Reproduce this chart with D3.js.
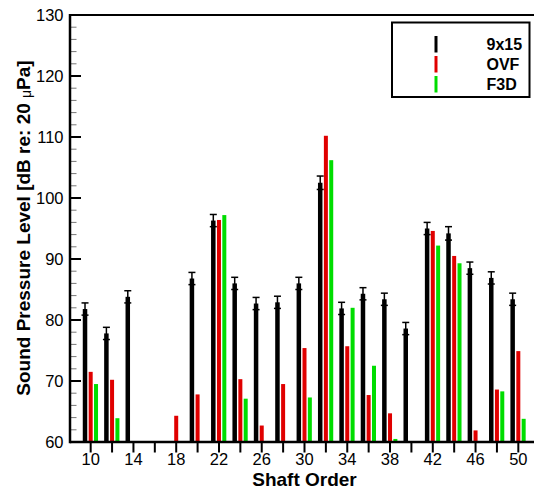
<!DOCTYPE html>
<html><head><meta charset="utf-8">
<script src="https://cdn.jsdelivr.net/npm/d3@7"></script>
<style>
html,body{margin:0;padding:0;background:#fff;}
svg{display:block;font-family:"Liberation Sans",Arial,sans-serif;}
</style></head>
<body>
<svg id="chart" width="534" height="489"></svg>
<script>
const orders = [10,12,14,16,18,20,22,24,26,28,30,32,34,36,38,40,42,44,46,48,50];
const exp9x15 = [81.8,77.8,83.8,null,null,86.8,96.3,86.0,82.7,82.9,86.0,102.5,81.9,84.3,83.4,78.6,95.0,94.2,88.5,86.9,83.4];
const expErr  = [1.0,1.0,1.0,null,null,1.0,1.0,1.0,1.0,1.0,1.0,1.1,1.0,1.0,1.0,1.0,1.0,1.1,1.0,1.0,1.0];
const ovf     = [71.5,70.2,null,null,64.3,67.8,96.4,70.3,62.7,69.5,75.4,110.2,75.7,67.7,64.7,null,94.6,90.5,61.9,68.6,74.9];
const f3d     = [69.5,63.9,null,null,null,null,97.2,67.1,null,null,67.3,106.2,82.0,72.5,60.5,null,92.2,89.3,null,68.3,63.8];
const seriesNames = ["9x15","OVF","F3D"];
const seriesColors = ["#000000","#e00000","#00dd00"];
const yTicks = [60,70,80,90,100,110,120,130];
const xTickLabels = [10,14,18,22,26,30,34,38,42,46,50];

const svg = d3.select("#chart");
const x = d3.scaleLinear().domain([8, 52]).range([69.3, 539.7]);
const y = d3.scaleLinear().domain([60, 130]).range([442, 15]);

// minor y ticks
const minor = d3.range(60, 131, 2).filter(v => v % 10 !== 0);
svg.append("g").selectAll("line").data(minor).join("line")
  .attr("x1", 70).attr("x2", 76.5).attr("y1", d => y(d)).attr("y2", d => y(d))
  .attr("stroke", "#777").attr("stroke-width", 1);
// major y ticks
svg.append("g").selectAll("line").data(yTicks).join("line")
  .attr("x1", 70).attr("x2", 81).attr("y1", d => y(d)).attr("y2", d => y(d))
  .attr("stroke", "#000").attr("stroke-width", 2);
svg.append("g").selectAll("text").data(yTicks).join("text")
  .attr("x", 63.5).attr("y", d => y(d)).attr("dy", "0.36em")
  .attr("text-anchor", "end").attr("font-size", 16.5).attr("fill", "#000")
  .text(d => d);

// x ticks
const xt = d3.range(10, 51, 2);
svg.append("g").selectAll("line").data(xt).join("line")
  .attr("x1", d => x(d)).attr("x2", d => x(d)).attr("y1", 442).attr("y2", 452.5)
  .attr("stroke", "#000").attr("stroke-width", 2);
svg.append("g").selectAll("text").data(xTickLabels).join("text")
  .attr("x", d => x(d)).attr("y", 465)
  .attr("text-anchor", "middle").attr("font-size", 16.5).attr("fill", "#000")
  .text(d => d);

// bars
const series = [exp9x15, ovf, f3d];
const offsets = [-0.53, 0, 0.5];
const widths = [4.5, 4, 4];
series.forEach((vals, si) => {
  const data = orders.map((o, i) => ({o, v: vals[i], e: si === 0 ? expErr[i] : null})).filter(d => d.v != null);
  svg.append("g").selectAll("rect").data(data).join("rect")
    .attr("x", d => x(d.o + offsets[si]) - widths[si] / 2)
    .attr("width", widths[si])
    .attr("y", d => y(d.v))
    .attr("height", d => y(60) - y(d.v))
    .attr("fill", seriesColors[si]);
  if (si === 0) {
    const g = svg.append("g").attr("stroke", "#000").attr("stroke-width", 1.5);
    data.forEach(d => {
      const cx = x(d.o + offsets[si]);
      g.append("line").attr("x1", cx).attr("x2", cx).attr("y1", y(d.v - d.e)).attr("y2", y(d.v + d.e));
      g.append("line").attr("x1", cx - 3.5).attr("x2", cx + 3.5).attr("y1", y(d.v + d.e)).attr("y2", y(d.v + d.e));
      g.append("line").attr("x1", cx - 3.5).attr("x2", cx + 3.5).attr("y1", y(d.v - d.e)).attr("y2", y(d.v - d.e));
    });
  }
});

// frame
svg.append("line").attr("x1", 70).attr("x2", 534).attr("y1", 15).attr("y2", 15).attr("stroke", "#000").attr("stroke-width", 2);
svg.append("line").attr("x1", 70).attr("x2", 534).attr("y1", 442).attr("y2", 442).attr("stroke", "#000").attr("stroke-width", 2.5);
svg.append("line").attr("x1", 70).attr("x2", 70).attr("y1", 14).attr("y2", 443.2).attr("stroke", "#000").attr("stroke-width", 2.5);

// legend
const lg = svg.append("g");
lg.append("rect").attr("x", 392).attr("y", 22.5).attr("width", 137.5).attr("height", 74.5)
  .attr("fill", "#fff").attr("stroke", "#000").attr("stroke-width", 2);
seriesNames.forEach((n, i) => {
  const cy = 44 + i * 20;
  lg.append("line").attr("x1", 436).attr("x2", 436).attr("y1", cy - 8).attr("y2", cy + 8.5)
    .attr("stroke", seriesColors[i]).attr("stroke-width", 3);
  lg.append("text").attr("x", 486.5).attr("y", cy + 5.5).attr("font-size", 16).attr("font-weight", "bold")
    .attr("fill", "#000").text(n);
});

// axis titles
svg.append("text").attr("x", 304.5).attr("y", 485.5).attr("text-anchor", "middle")
  .attr("font-size", 19).attr("font-weight", "bold").text("Shaft Order");
const yl = svg.append("text").attr("transform", "translate(29.5,228) rotate(-90)")
  .attr("text-anchor", "middle").attr("font-size", 19).attr("font-weight", "bold");
yl.append("tspan").text("Sound Pressure Level [dB re: 20 ");
yl.append("tspan").attr("font-size", 14).attr("font-weight", "normal").attr("dy", 1).text("μ");
yl.append("tspan").attr("dy", -1).text("Pa]");
</script>
</body></html>
